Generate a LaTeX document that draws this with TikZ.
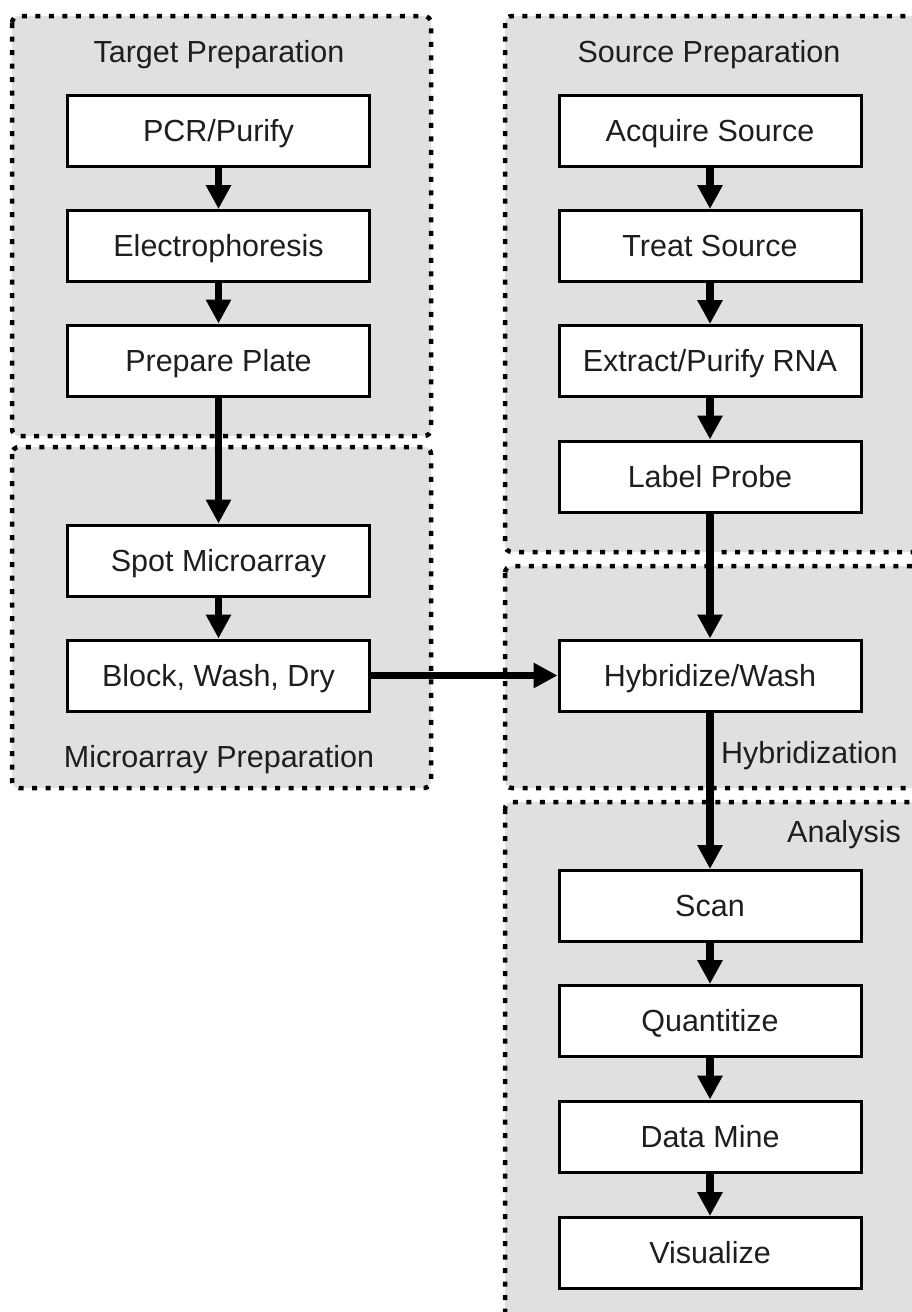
\documentclass[tikz,border=0pt]{standalone}
\usepackage{fontspec}
\setmainfont{Liberation Sans}
\usetikzlibrary{arrows.meta}
\definecolor{groupgray}{HTML}{E0E0E0}
\definecolor{txt}{HTML}{1E1E1E}
\begin{document}
\begin{tikzpicture}[x=1pt,y=-1pt,
  font=\fontsize{30.5}{36}\selectfont,
  stepbox/.style={draw=black, line width=3pt, fill=white, minimum width=302pt, minimum height=71pt, inner sep=0pt, text=txt, text height=21.8pt, text depth=0pt},
  group/.style={fill=groupgray, draw=black, line width=4.5pt, dash pattern=on 5pt off 8.5pt, rounded corners=7pt},
  flow/.style={line width=7.5pt, -{Triangle[length=24pt,width=24pt]}},
  grouplabel/.style={text=txt, inner sep=0pt, anchor=base}]
\useasboundingbox (0,0) rectangle (912,1312);
\clip (0,0) rectangle (912,1312);
% groups
\draw[group] (12,16) rectangle (431,436);
\draw[group] (12,447) rectangle (431,788);
\draw[group] (505,16) rectangle (940,552);
\draw[group] (505,566) rectangle (940,788);
\draw[group] (505,802) rectangle (940,1340);
% group labels
\node[grouplabel] (lt) at (219,62) {Target Preparation};
\node[grouplabel] (ls) at (709,62) {Source Preparation};
\node[grouplabel] (lm) at (219,767) {Microarray Preparation};
\node[grouplabel, anchor=base west] (lh) at (721,763) {Hybridization};
\node[grouplabel, anchor=base east] (la) at (901,842) {Analysis};
% left column
\node[stepbox] (pcr) at (218.5,131) {PCR/Purify};
\node[stepbox] (ele) at (218.5,246) {Electrophoresis};
\node[stepbox] (pp) at (218.5,360.5) {Prepare Plate};
\node[stepbox] (spot) at (218.5,560.5) {Spot Microarray};
\node[stepbox] (bwd) at (218.5,675.5) {Block, Wash, Dry};
% right column
\node[stepbox] (acq) at (710,131) {Acquire Source};
\node[stepbox] (trt) at (710,246) {Treat Source};
\node[stepbox] (ext) at (710,361) {Extract/Purify RNA};
\node[stepbox] (lab) at (710,476.5) {Label Probe};
\node[stepbox] (hyb) at (710,675.5) {Hybridize/Wash};
\node[stepbox] (scan) at (710,906) {Scan};
\node[stepbox] (quant) at (710,1021) {Quantitize};
\node[stepbox] (dm) at (710,1136.5) {Data Mine};
\node[stepbox] (vis) at (710,1253) {Visualize};
% connectors
\draw[flow] (pcr) -- (ele);
\draw[flow] (ele) -- (pp);
\draw[flow] (pp) -- (spot);
\draw[flow] (spot) -- (bwd);
\draw[flow] (bwd) -- (hyb);
\draw[flow] (acq) -- (trt);
\draw[flow] (trt) -- (ext);
\draw[flow] (ext) -- (lab);
\draw[flow] (lab) -- (hyb);
\draw[flow] (hyb) -- (scan);
\draw[flow] (scan) -- (quant);
\draw[flow] (quant) -- (dm);
\draw[flow] (dm) -- (vis);
\end{tikzpicture}
\end{document}
